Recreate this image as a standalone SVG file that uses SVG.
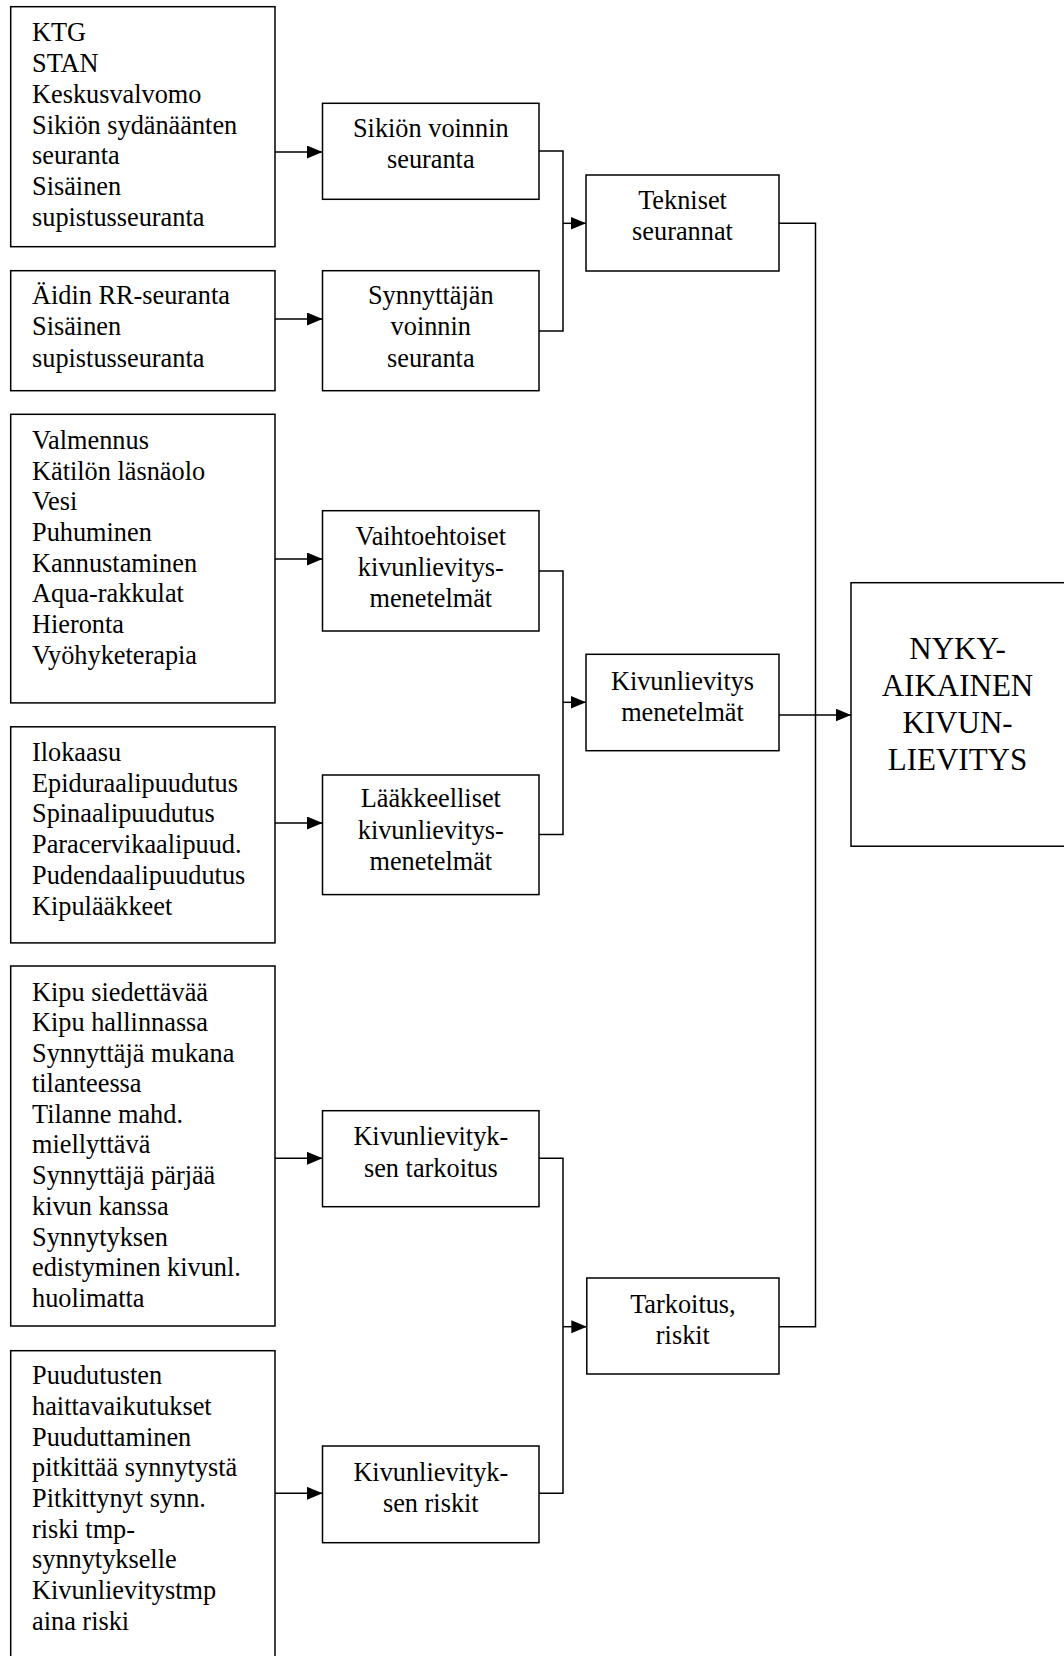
<svg xmlns="http://www.w3.org/2000/svg" width="1064" height="1656" viewBox="0 0 1064 1656">
<style>
  .box { fill: #fff; stroke: #000; stroke-width: 1.5; }
  .t { font-family: "Liberation Serif", "Times New Roman", serif; font-size: 26.3px; fill: #000; }
  .c { text-anchor: middle; }
  .big { font-family: "Liberation Serif", "Times New Roman", serif; font-size: 31px; fill: #000; text-anchor: middle; }
  .ln { fill: none; stroke: #000; stroke-width: 1.5; }
</style>
<defs>
  <marker id="ah" markerUnits="userSpaceOnUse" markerWidth="16" markerHeight="14" refX="15.5" refY="6.5" orient="auto">
    <path d="M0,0 L15.5,6.5 L0,13 z" fill="#000"/>
  </marker>
</defs>
<rect width="1064" height="1656" fill="#fff"/>

<g id="connectors">
  <path class="ln" d="M275,152 H322.5" marker-end="url(#ah)"/>
  <path class="ln" d="M275,319 H322.5" marker-end="url(#ah)"/>
  <path class="ln" d="M539,151 H563 V331 H539"/>
  <path class="ln" d="M563,223.3 H586" marker-end="url(#ah)"/>
  <path class="ln" d="M275,559 H322.5" marker-end="url(#ah)"/>
  <path class="ln" d="M275,823 H322.5" marker-end="url(#ah)"/>
  <path class="ln" d="M539,571 H563 V834.5 H539"/>
  <path class="ln" d="M563,702.3 H586" marker-end="url(#ah)"/>
  <path class="ln" d="M275,1158.3 H322.5" marker-end="url(#ah)"/>
  <path class="ln" d="M275,1493.3 H322.5" marker-end="url(#ah)"/>
  <path class="ln" d="M539,1158.3 H563 V1493.3 H539"/>
  <path class="ln" d="M563,1326.7 H586.8" marker-end="url(#ah)"/>
  <path class="ln" d="M779,223.3 H815.5 V1326.7 H779"/>
  <path class="ln" d="M779,715 H851" marker-end="url(#ah)"/>
</g>

<g id="n-tekniikka-lista">
  <rect class="box" x="10.7" y="6.7" width="264.3" height="240"/>
  <text class="t" x="32" y="41">KTG</text>
  <text class="t" x="32" y="72">STAN</text>
  <text class="t" x="32" y="102.5">Keskusvalvomo</text>
  <text class="t" x="32" y="133.5">Sikiön sydänäänten</text>
  <text class="t" x="32" y="164">seuranta</text>
  <text class="t" x="32" y="195">Sisäinen</text>
  <text class="t" x="32" y="226">supistusseuranta</text>
</g>

<g id="n-sikio">
  <rect class="box" x="322.5" y="103.3" width="216.5" height="96"/>
  <text class="t c" x="430.8" y="137">Sikiön voinnin</text>
  <text class="t c" x="430.8" y="168">seuranta</text>
</g>

<g id="n-aiti-lista">
  <rect class="box" x="10.7" y="270.7" width="264.3" height="120"/>
  <text class="t" x="32" y="304">Äidin RR-seuranta</text>
  <text class="t" x="32" y="335">Sisäinen</text>
  <text class="t" x="32" y="366.5">supistusseuranta</text>
</g>

<g id="n-synnyttaja">
  <rect class="box" x="322.5" y="270.7" width="216.5" height="120"/>
  <text class="t c" x="430.8" y="304">Synnyttäjän</text>
  <text class="t c" x="430.8" y="335">voinnin</text>
  <text class="t c" x="430.8" y="366.5">seuranta</text>
</g>

<g id="n-tekniset">
  <rect class="box" x="586" y="175" width="193" height="96"/>
  <text class="t c" x="682.5" y="209">Tekniset</text>
  <text class="t c" x="682.5" y="240">seurannat</text>
</g>

<g id="n-vaihtoehtoiset-lista">
  <rect class="box" x="10.7" y="414.3" width="264.3" height="288.6"/>
  <text class="t" x="32" y="449">Valmennus</text>
  <text class="t" x="32" y="479.5">Kätilön läsnäolo</text>
  <text class="t" x="32" y="510">Vesi</text>
  <text class="t" x="32" y="541">Puhuminen</text>
  <text class="t" x="32" y="571.5">Kannustaminen</text>
  <text class="t" x="32" y="602">Aqua-rakkulat</text>
  <text class="t" x="32" y="633">Hieronta</text>
  <text class="t" x="32" y="664">Vyöhyketerapia</text>
</g>

<g id="n-vaihtoehtoiset">
  <rect class="box" x="322.5" y="510.7" width="216.5" height="120.3"/>
  <text class="t c" x="430.8" y="544.6">Vaihtoehtoiset</text>
  <text class="t c" x="430.8" y="575.7">kivunlievitys-</text>
  <text class="t c" x="430.8" y="607">menetelmät</text>
</g>

<g id="n-laake-lista">
  <rect class="box" x="10.7" y="726.8" width="264.3" height="216.1"/>
  <text class="t" x="32" y="760.7">Ilokaasu</text>
  <text class="t" x="32" y="791.5">Epiduraalipuudutus</text>
  <text class="t" x="32" y="822">Spinaalipuudutus</text>
  <text class="t" x="32" y="853">Paracervikaalipuud.</text>
  <text class="t" x="32" y="884">Pudendaalipuudutus</text>
  <text class="t" x="32" y="915">Kipulääkkeet</text>
</g>

<g id="n-laakkeelliset">
  <rect class="box" x="322.5" y="775" width="216.5" height="119.6"/>
  <text class="t c" x="430.8" y="807">Lääkkeelliset</text>
  <text class="t c" x="430.8" y="838.5">kivunlievitys-</text>
  <text class="t c" x="430.8" y="870">menetelmät</text>
</g>

<g id="n-menetelmat">
  <rect class="box" x="586" y="654.3" width="193" height="96.4"/>
  <text class="t c" x="682.5" y="690">Kivunlievitys</text>
  <text class="t c" x="682.5" y="721">menetelmät</text>
</g>

<g id="n-nykyaikainen">
  <rect class="box" x="851" y="582.7" width="220" height="263.5"/>
  <text class="big" x="957.5" y="659.3">NYKY-</text>
  <text class="big" x="957.5" y="696">AIKAINEN</text>
  <text class="big" x="957.5" y="732.7">KIVUN-</text>
  <text class="big" x="957.5" y="770">LIEVITYS</text>
</g>

<g id="n-tarkoitus-lista">
  <rect class="box" x="10.7" y="966" width="264.3" height="360"/>
  <text class="t" x="32" y="1000.7">Kipu siedettävää</text>
  <text class="t" x="32" y="1031">Kipu hallinnassa</text>
  <text class="t" x="32" y="1061.5">Synnyttäjä mukana</text>
  <text class="t" x="32" y="1092">tilanteessa</text>
  <text class="t" x="32" y="1122.5">Tilanne mahd.</text>
  <text class="t" x="32" y="1153">miellyttävä</text>
  <text class="t" x="32" y="1184">Synnyttäjä pärjää</text>
  <text class="t" x="32" y="1214.5">kivun kanssa</text>
  <text class="t" x="32" y="1245.5">Synnytyksen</text>
  <text class="t" x="32" y="1276">edistyminen kivunl.</text>
  <text class="t" x="32" y="1307">huolimatta</text>
</g>

<g id="n-tarkoitus">
  <rect class="box" x="322.5" y="1110.7" width="216.5" height="96"/>
  <text class="t c" x="430.8" y="1145">Kivunlievityk-</text>
  <text class="t c" x="430.8" y="1176.5">sen tarkoitus</text>
</g>

<g id="n-riskit-lista">
  <rect class="box" x="10.7" y="1350.7" width="264.3" height="320"/>
  <text class="t" x="32" y="1384">Puudutusten</text>
  <text class="t" x="32" y="1415">haittavaikutukset</text>
  <text class="t" x="32" y="1445.5">Puuduttaminen</text>
  <text class="t" x="32" y="1476">pitkittää synnytystä</text>
  <text class="t" x="32" y="1506.7">Pitkittynyt synn.</text>
  <text class="t" x="32" y="1537.5">riski tmp-</text>
  <text class="t" x="32" y="1568">synnytykselle</text>
  <text class="t" x="32" y="1599">Kivunlievitystmp</text>
  <text class="t" x="32" y="1629.5">aina riski</text>
</g>

<g id="n-riskit">
  <rect class="box" x="322.5" y="1446" width="216.5" height="96.7"/>
  <text class="t c" x="430.8" y="1480.7">Kivunlievityk-</text>
  <text class="t c" x="430.8" y="1511.7">sen riskit</text>
</g>

<g id="n-tarkoitus-riskit">
  <rect class="box" x="586.8" y="1278" width="192.2" height="96"/>
  <text class="t c" x="682.9" y="1313">Tarkoitus,</text>
  <text class="t c" x="682.9" y="1344">riskit</text>
</g>
</svg>
